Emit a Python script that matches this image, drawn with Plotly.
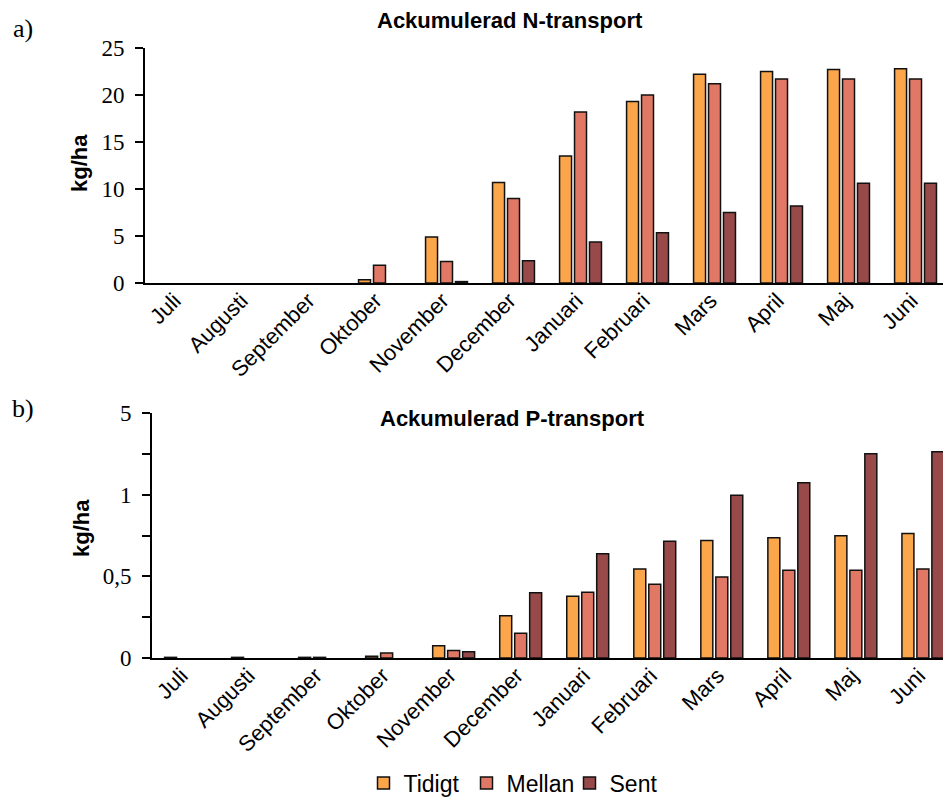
import plotly.graph_objects as go

# Months of the hydrological year (July - June)
months = ["Juli", "Augusti", "September", "Oktober", "November", "December",
          "Januari", "Februari", "Mars", "April", "Maj", "Juni"]

# Accumulated N transport, kg/ha
n_tidigt = [0, 0, 0, 0.35, 4.9, 10.7, 13.5, 19.3, 22.2, 22.5, 22.7, 22.8]
n_mellan = [0, 0, 0, 1.9, 2.3, 9.0, 18.2, 20.0, 21.2, 21.7, 21.7, 21.7]
n_sent = [0, 0, 0, 0, 0.15, 2.37, 4.35, 5.35, 7.5, 8.2, 10.6, 10.6]

# Accumulated P transport, kg/ha
p_tidigt = [0.004, 0.004, 0.004, 0.01, 0.075, 0.258, 0.378, 0.545, 0.72, 0.736, 0.748, 0.762]
p_mellan = [0, 0, 0.004, 0.03, 0.046, 0.152, 0.402, 0.451, 0.496, 0.538, 0.538, 0.545]
p_sent = [0, 0, 0, 0, 0.039, 0.40, 0.638, 0.715, 0.996, 1.073, 1.25, 1.262]

series_names = ["Tidigt", "Mellan", "Sent"]
colors = ["#FBA64B", "#E17866", "#984A4A"]

# P axis ticks (label "5" at the top position as printed)
p_tickvals = [0, 0.25, 0.5, 0.75, 1.0, 1.25, 1.5]
p_ticktext = ["0", "", "0,5", "", "1", "", "5"]

W, H = 943, 798
serif = "Liberation Serif, Times New Roman, serif"
sans = "Liberation Sans, Arial, sans-serif"


def nonzero(values):
    # empty months get no bar at all (avoids an outline stub on the axis)
    return [v if v > 0 else None for v in values]


fig = go.Figure()
for name, col, nv, pv in zip(series_names, colors,
                              [n_tidigt, n_mellan, n_sent],
                              [p_tidigt, p_mellan, p_sent]):
    fig.add_trace(go.Bar(x=months, y=nonzero(nv), name=name, marker_color=col,
                         marker_line=dict(color="#111111", width=1.5),
                         xaxis="x", yaxis="y", legendgroup=name, showlegend=True))
    fig.add_trace(go.Bar(x=months, y=nonzero(pv), name=name, marker_color=col,
                         marker_line=dict(color="#111111", width=1.5),
                         xaxis="x2", yaxis="y2", legendgroup=name, showlegend=False))


def px_x(v):
    return v / W


def px_y(v):
    return 1 - v / H


xcommon = dict(type="category", showline=True, linecolor="black", linewidth=2,
               ticks="", tickangle=-45, showgrid=False, zeroline=False,
               tickfont=dict(family=sans, size=22, color="black"),
               ticklabelstandoff=-6, ticklabelshift=-4)
ycommon = dict(showline=True, linecolor="black", linewidth=2, ticks="outside",
               ticklen=8, tickwidth=2, tickcolor="black", showgrid=False,
               zeroline=False, tickfont=dict(family=serif, size=23, color="black"),
               ticklabelstandoff=6)

fig.update_layout(
    width=W, height=H,
    margin=dict(l=0, r=0, t=0, b=0, autoexpand=False),
    paper_bgcolor="white", plot_bgcolor="white",
    barmode="group", bargap=0.33, bargroupgap=0.2,
    xaxis=dict(domain=[px_x(145), 1], range=[-0.5, 11.41], anchor="y", **xcommon),
    yaxis=dict(domain=[px_y(283), px_y(48)], range=[0, 25], tickvals=[0, 5, 10, 15, 20, 25],
               anchor="x", **ycommon),
    xaxis2=dict(domain=[px_x(152), 1], range=[-0.5, 11.3], anchor="y2", **xcommon),
    yaxis2=dict(domain=[px_y(658), px_y(413)], range=[0, 1.5], tickvals=p_tickvals,
                ticktext=p_ticktext, anchor="x2", **ycommon),
    legend=dict(orientation="h", x=px_x(518), xanchor="center", y=px_y(783), yanchor="middle",
                font=dict(family=sans, size=23, color="black"), itemwidth=30,
                entrywidth=58, traceorder="normal"),
    showlegend=True,
)

annots = [
    dict(text="<b>Ackumulerad N-transport</b>", x=px_x(510), y=px_y(21),
         font=dict(family=sans, size=22, color="black")),
    dict(text="<b>Ackumulerad P-transport</b>", x=px_x(512), y=px_y(418),
         font=dict(family=sans, size=22, color="black")),
    dict(text="<b>kg/ha</b>", x=px_x(79), y=px_y(163), textangle=-90,
         font=dict(family=sans, size=22, color="black")),
    dict(text="<b>kg/ha</b>", x=px_x(81), y=px_y(528), textangle=-90,
         font=dict(family=sans, size=22, color="black")),
    dict(text="a)", x=px_x(23), y=px_y(28), font=dict(family=serif, size=26, color="black")),
    dict(text="b)", x=px_x(23), y=px_y(408), font=dict(family=serif, size=26, color="black")),
]
for a in annots:
    fig.add_annotation(xref="paper", yref="paper", showarrow=False,
                       xanchor="center", yanchor="middle", **a)

fig.write_html("out.html")
